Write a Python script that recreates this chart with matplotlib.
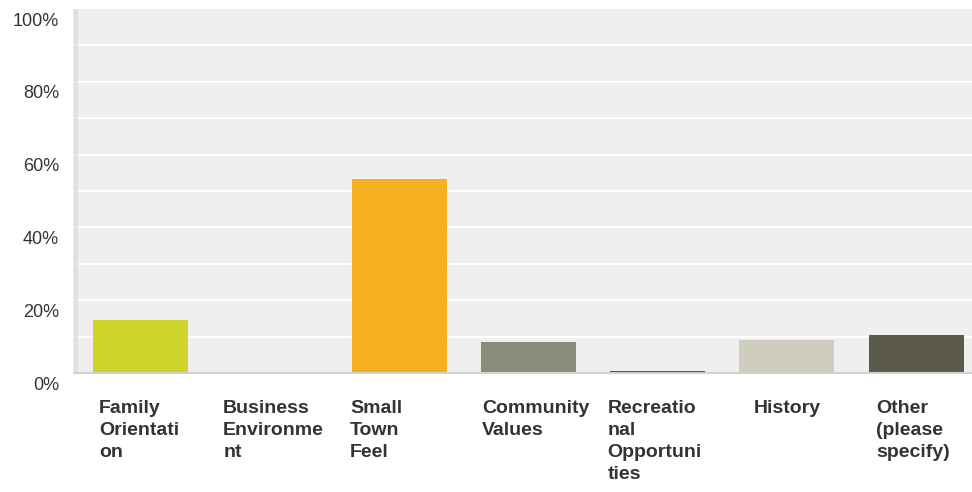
import matplotlib
matplotlib.use("Agg")
import matplotlib.pyplot as plt
from matplotlib.transforms import ScaledTranslation
import numpy as np

plt.rcParams['font.family'] = ['Liberation Sans', 'DejaVu Sans']

categories = ["Family\nOrientati\non", "Business\nEnvironme\nnt", "Small\nTown\nFeel",
              "Community\nValues", "Recreatio\nnal\nOpportuni\nties", "History",
              "Other\n(please\nspecify)"]
values = [14.6, 0.0, 53.2, 8.5, 0.6, 9.1, 10.5]
colors = ["#CFD42A", "#B9B9A9", "#F7B01F", "#8A8B7B", "#24606E", "#CFCDBF", "#5C5A4B"]
ytick_values = [0, 20, 40, 60, 80, 100]
ytick_labels = ["0%", "20%", "40%", "60%", "80%", "100%"]
# left edge of each category label relative to its bar centre (in category units)
label_shift = [-0.32, -0.36, -0.38, -0.36, -0.39, -0.26, -0.31]

fig = plt.figure(figsize=(9.72, 4.92), dpi=100)
W, H = 972, 492
ax = fig.add_axes([73 / W, (H - 373) / H, (W - 73) / W, (373 - 9) / H])
ax.set_facecolor("#EFEFEF")

x = np.arange(len(categories))
ax.bar(x, values, width=0.735, color=colors, zorder=3)

ax.set_xlim(-0.522, 6.431)
ax.set_ylim(0, 100)

# white horizontal grid every 10%
for g in range(10, 100, 10):
    ax.axhline(g, color="white", lw=1.5, zorder=1)

for side in ["top", "right"]:
    ax.spines[side].set_visible(False)
ax.spines["left"].set_color("#E0E0E0")
ax.spines["left"].set_linewidth(3)
ax.spines["left"].set_capstyle("butt")
ax.spines["left"].set_position(("outward", -2))
ax.spines["bottom"].set_color("#D2D2D2")
ax.spines["bottom"].set_linewidth(1.5)
ax.spines["bottom"].set_capstyle("butt")
ax.spines["bottom"].set_zorder(4)

ax.set_xticks([])
ax.set_yticks(ytick_values)
ax.set_yticklabels(ytick_labels, fontsize=13, color="#333333")
ax.tick_params(axis="y", length=0, pad=12)
shift_down = ScaledTranslation(0, -0.035, fig.dpi_scale_trans)
for tick in ax.yaxis.get_major_ticks():
    tick.label1.set_verticalalignment("top")
    tick.label1.set_transform(tick.label1.get_transform() + shift_down)

trans = ax.get_xaxis_transform() + ScaledTranslation(0, -0.27, fig.dpi_scale_trans)
for xi, name, sh in zip(x, categories, label_shift):
    ax.text(xi + sh, 0, name, transform=trans, ha="left", va="top",
            fontsize=14, fontweight="bold", color="#333333", linespacing=1.38)

fig.savefig("out.png", dpi=100)
